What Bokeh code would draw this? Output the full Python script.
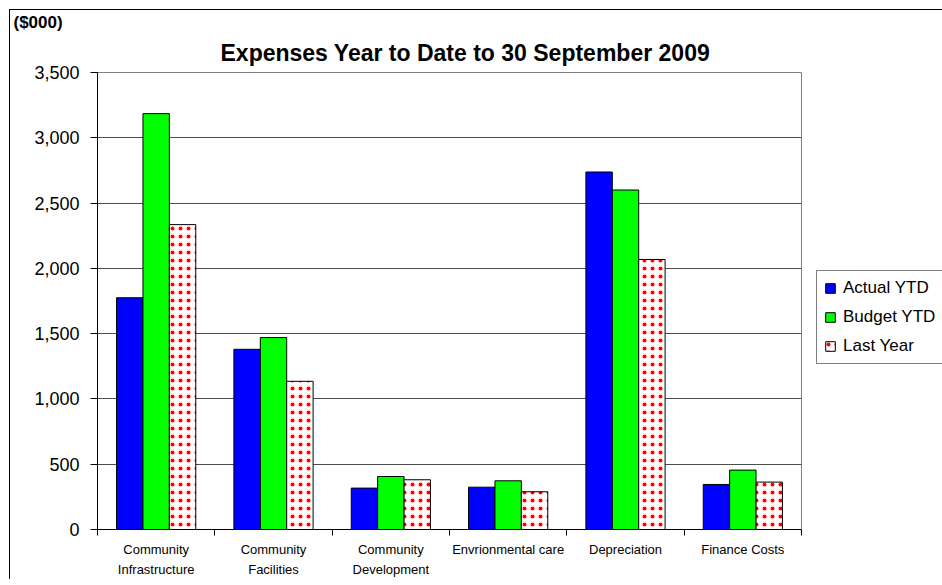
from bokeh.plotting import figure
from bokeh.models import (ColumnDataSource, Range1d, FixedTicker, NumeralTickFormatter,
                          Legend, LegendItem, Title)
from bokeh.transform import dodge
from bokeh.embed import file_html
from bokeh.resources import INLINE

# ---- data ----
categories = ["Community\nInfrastructure", "Community\nFacilities", "Community\nDevelopment",
              "Envrionmental care", "Depreciation", "Finance Costs"]
actual_ytd = [1775, 1380, 317, 324, 2738, 345]
budget_ytd = [3185, 1470, 406, 373, 2600, 455]
last_year = [2335, 1135, 381, 289, 2068, 363]
y_ticks = [0, 500, 1000, 1500, 2000, 2500, 3000, 3500]
title_text = "Expenses Year to Date to 30 September 2009"
unit_text = "($000)"

FONT = "Liberation Sans"
n = len(categories)
centers = [i + 0.5 for i in range(n)]
src = ColumnDataSource(dict(x=centers, actual=actual_ytd, budget=budget_ytd, last=last_year))

p = figure(frame_width=704, frame_height=457, output_backend="svg", toolbar_location=None,
           x_range=Range1d(0, n), y_range=Range1d(0, y_ticks[-1]),
           min_border_left=97, min_border_right=131, min_border_top=72, min_border_bottom=46)
p.styles = {"background": "linear-gradient(#000,#000) 9px 9px / 1px 100% no-repeat, "
                          "linear-gradient(#000,#000) 9px 9px / 100% 1px no-repeat, #ffffff"}
p.background_fill_color = "white"
p.border_fill_color = None
p.outline_line_color = "#808080"
p.xgrid.grid_line_color = None
p.ygrid.grid_line_color = "#4d4d4d"
p.ygrid.grid_line_width = 1

bw = 0.225
r1 = p.vbar(x=dodge("x", -bw, range=p.x_range), top="actual", width=bw, source=src,
            fill_color="#0000FF", line_color="black", line_width=1)
r2 = p.vbar(x=dodge("x", 0, range=p.x_range), top="budget", width=bw, source=src,
            fill_color="#00FF00", line_color="black", line_width=1)
r3 = p.vbar(x=dodge("x", bw, range=p.x_range), top="last", width=bw, source=src,
            fill_color="white", line_color="black", line_width=1,
            hatch_pattern="dot", hatch_color="red", hatch_scale=8, hatch_weight=1)

# x axis: labels at centers, ticks at category boundaries
xa = p.xaxis[0]
xa.ticker = FixedTicker(ticks=centers, minor_ticks=list(range(n + 1)))
xa.major_label_overrides = {c: lab for c, lab in zip(centers, categories)}
xa.major_tick_line_color = None
xa.major_tick_out = 0
xa.minor_tick_line_color = "black"
xa.minor_tick_out = 6
xa.minor_tick_in = 0
xa.axis_line_color = "black"
xa.major_label_text_font = FONT
xa.major_label_text_font_size = "13px"
xa.major_label_text_color = "black"
xa.major_label_text_line_height = 1.35
xa.major_label_standoff = 6

ya = p.yaxis[0]
ya.ticker = FixedTicker(ticks=y_ticks)
ya.formatter = NumeralTickFormatter(format="0,0")
ya.axis_line_color = "black"
ya.major_tick_line_color = "black"
ya.major_tick_out = 7
ya.major_tick_in = 0
ya.minor_tick_line_color = None
ya.major_label_text_font = FONT
ya.major_label_text_font_size = "18px"
ya.major_label_text_color = "black"
ya.major_label_standoff = 11

legend = Legend(items=[LegendItem(label="Actual YTD", renderers=[r1]),
                       LegendItem(label="Budget YTD", renderers=[r2]),
                       LegendItem(label="Last Year", renderers=[r3])],
                location=(15, 165), orientation="vertical")
legend.label_text_font = FONT
legend.label_text_font_size = "17px"
legend.label_text_color = "black"
legend.glyph_width = 12
legend.glyph_height = 12
legend.label_height = 20
legend.spacing = 9
legend.padding = 7
legend.margin = 0
legend.label_standoff = 7
legend.border_line_color = "black"
legend.border_line_width = 1
legend.background_fill_color = "white"
legend.background_fill_alpha = 1
p.add_layout(legend, "right")

main_title = Title(text=title_text, align="left", offset=123, standoff=13,
                   text_font=FONT, text_font_size="23px", text_font_style="bold",
                   text_color="black")
unit_title = Title(text=unit_text, align="left", offset=-84, standoff=0,
                   text_font=FONT, text_font_size="17px", text_font_style="bold",
                   text_color="black")
p.add_layout(main_title, "above")
p.add_layout(unit_title, "above")

open("out.html", "w").write(file_html(p, INLINE))
